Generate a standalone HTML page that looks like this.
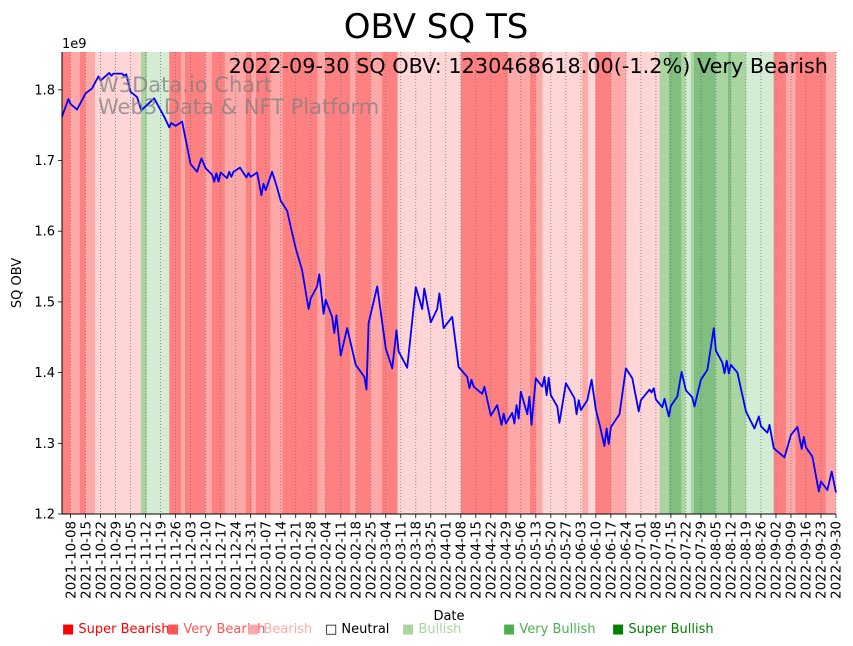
<!DOCTYPE html>
<html><head><meta charset="utf-8"><style>
html,body{margin:0;padding:0;background:#fff}
svg{display:block;font-family:"DejaVu Sans","Liberation Sans",sans-serif}
</style></head><body>
<svg id="chart" width="853" height="646" viewBox="0 0 853 646">
<g id="bands"></g>
<g id="grid"></g>
<g id="series"></g>
<g id="axes"></g>
<text x="436" y="38" font-size="34" text-anchor="middle">OBV SQ TS</text>
<text x="62" y="48" font-size="13">1e9</text>
<text x="828" y="73" font-size="20.8" text-anchor="end">2022-09-30 SQ OBV: 1230468618.00(-1.2%) Very Bearish</text>
<text x="98" y="92" font-size="21" fill="#808080" fill-opacity="0.75">W3Data.io Chart</text>
<text x="98" y="114" font-size="21" fill="#808080" fill-opacity="0.75">Web3 Data &amp; NFT Platform</text>
<text transform="translate(21,283) rotate(-90)" font-size="13" text-anchor="middle">SQ OBV</text>
<text x="449" y="620" font-size="13" text-anchor="middle">Date</text>
<g font-size="13">
<text x="62" y="633" fill="#ff0000">■ Super Bearish</text>
<text x="167" y="633" fill="#ff5555">■ Very Bearish</text>
<text x="247" y="633" fill="#ffaaaa">■ Bearish</text>
<text x="325" y="633" fill="#000">□ Neutral</text>
<text x="402" y="633" fill="#aad4a0">■ Bullish</text>
<text x="503" y="633" fill="#4caf50">■ Very Bullish</text>
<text x="612" y="633" fill="#008000">■ Super Bullish</text>
</g>
</svg>
<script>
// days since 2021-10-04
const days=[0,3,4,7,11,14,17,18,22,23,24,28,29,30,32,35,37,43,48,50,51,53,56,60,63,65,67,70,71,72,73,74,77,78,79,80,83,86,87,88,91,93,94,95,98,100,102,105,107,109,112,115,116,119,120,122,123,126,127,128,130,133,137,141,142,143,147,151,154,156,157,161,165,168,169,172,175,176,178,182,185,189,190,191,192,196,197,200,203,205,206,207,210,211,212,213,214,217,218,219,221,224,225,226,227,228,231,232,235,239,240,241,242,245,247,249,251,253,254,255,256,260,263,266,269,270,274,275,276,277,280,281,283,284,287,289,291,294,295,298,301,304,305,308,309,310,311,312,315,319,321,323,325,326,329,330,332,337,340,343,345,346,347,350,353,354,357,359,361];
const obv=[1.762,1.787,1.780,1.772,1.795,1.802,1.819,1.813,1.824,1.820,1.823,1.823,1.820,1.822,1.797,1.790,1.771,1.788,1.760,1.747,1.753,1.749,1.755,1.695,1.684,1.703,1.689,1.680,1.670,1.682,1.670,1.683,1.675,1.684,1.677,1.684,1.690,1.676,1.682,1.677,1.683,1.651,1.667,1.658,1.684,1.665,1.643,1.629,1.602,1.576,1.545,1.490,1.505,1.522,1.539,1.483,1.503,1.479,1.456,1.481,1.424,1.463,1.411,1.394,1.376,1.470,1.522,1.434,1.406,1.460,1.430,1.407,1.521,1.490,1.519,1.471,1.490,1.512,1.463,1.479,1.408,1.394,1.378,1.390,1.380,1.370,1.380,1.339,1.354,1.326,1.342,1.328,1.343,1.328,1.354,1.335,1.373,1.341,1.366,1.326,1.392,1.380,1.394,1.368,1.393,1.368,1.352,1.329,1.385,1.364,1.341,1.361,1.347,1.361,1.390,1.347,1.323,1.296,1.321,1.299,1.323,1.341,1.406,1.392,1.345,1.361,1.376,1.372,1.378,1.362,1.351,1.363,1.338,1.353,1.366,1.401,1.375,1.365,1.352,1.390,1.404,1.463,1.431,1.414,1.399,1.417,1.399,1.411,1.400,1.345,1.333,1.321,1.338,1.324,1.315,1.326,1.293,1.280,1.312,1.323,1.292,1.309,1.294,1.281,1.232,1.246,1.234,1.260,1.2305];
const bandStart=[-1,4.05,8.4,11,15.4,36.8,39.7,50,55.5,57.3,67,69.8,76,85.7,88.4,90.4,97.3,102.8,119.2,122.7,134.5,137.1,143.9,149.1,156.6,186.1,208.2,218.2,221,224.2,242.6,245.4,248.8,256.2,263.2,278.7,283,288.9,290.8,293.2,294.7,304.8,310.5,312.1,319.1,331.9,337.7,342,356.3];
const bandEnd=[4.05,8.4,11,15.4,36.8,39.7,50,55.5,57.3,67,69.8,76,85.7,88.4,90.4,97.3,102.8,119.2,122.7,134.5,137.1,143.9,149.1,156.6,186.1,208.2,218.2,221,224.2,242.6,245.4,248.8,256.2,263.2,278.7,283,288.9,290.8,293.2,294.7,304.8,310.5,312.1,319.1,331.9,337.7,342,356.3,362];
const bandLevel=[-3,-2,-3,-2,-1,2,1,-3,-2,-3,-2,-3,-2,-3,-2,-3,-2,-3,-2,-3,-2,-3,-2,-3,-1,-3,-2,-3,-2,-1,-2,-1,-3,-2,-1,2,3,2,1,2,3,2,3,2,1,-3,-2,-3,-2];
const yTicks=[1.2,1.3,1.4,1.5,1.6,1.7,1.8];
const levelColor={"-3":"#ff8080","-2":"#ffa8a8","-1":"#ffd5d5","1":"#d4ebd4","2":"#a8d5a0","3":"#80bf80"};
const X0=62,X1=836,Y0=514,YT=52,DMAX=361;
const xs=d=>X0+d*(X1-X0)/DMAX;
const ys=v=>Y0-(v-1.2)*(Y0-YT)/0.6535;
const NS="http://www.w3.org/2000/svg";
function mk(tag,attrs,parent){const e=document.createElementNS(NS,tag);for(const k in attrs)e.setAttribute(k,attrs[k]);parent.appendChild(e);return e;}
const bands=document.getElementById('bands');
for(let i=0;i<bandStart.length;i++){
 const a=Math.max(X0,xs(bandStart[i])),b=Math.min(X1,xs(bandEnd[i]));
 const r=mk('rect',{x:a,y:YT,width:b-a,height:Y0-YT,fill:levelColor[bandLevel[i]]},bands);
 
 
}
const tickLabels=[];
const start=new Date(Date.UTC(2021,9,4));
for(let d=4;d<=DMAX;d+=7){const t=new Date(start.getTime()+d*86400000);tickLabels.push({d:d,s:t.toISOString().slice(0,10)});}
const grid=document.getElementById('grid'),axes=document.getElementById('axes');
tickLabels.forEach(t=>{
 const x=xs(t.d);
 const g=mk('line',{x1:x,x2:x,y1:YT,y2:Y0,stroke:'#777',"stroke-width":0.8,"stroke-dasharray":"1,2"},grid);
 
 
 const tk=mk('line',{x1:x,x2:x,y1:Y0,y2:Y0+4,stroke:'#000',"stroke-width":0.8},axes);
 
 
 const tx=mk('text',{transform:`translate(${x+4.7},${Y0+7}) rotate(-90)`,"font-size":13.4,"text-anchor":"end"},axes);
 tx.textContent=t.s;
 
 
});
yTicks.forEach(v=>{
 const y=ys(v);
 const tk=mk('line',{x1:X0-4,x2:X0,y1:y,y2:y,stroke:'#000',"stroke-width":0.8},axes);
 
 
 const tx=mk('text',{x:X0-7,y:y+4.5,"font-size":13,"text-anchor":"end"},axes);
 tx.textContent=v.toFixed(1);
 
 
});
const sl=mk('line',{x1:X0,x2:X0,y1:YT,y2:Y0,stroke:'#000',"stroke-width":1},axes);


const bl=mk('line',{x1:X0,x2:X1,y1:Y0,y2:Y0,stroke:'#000',"stroke-width":1},axes);


const pts=days.map((d,i)=>xs(d).toFixed(1)+','+ys(obv[i]).toFixed(1)).join(' ');
const pl=mk('polyline',{points:pts,fill:'none',stroke:'#0000ff',"stroke-width":1.8,"stroke-linejoin":"round"},document.getElementById('series'));


</script>
</body></html>
